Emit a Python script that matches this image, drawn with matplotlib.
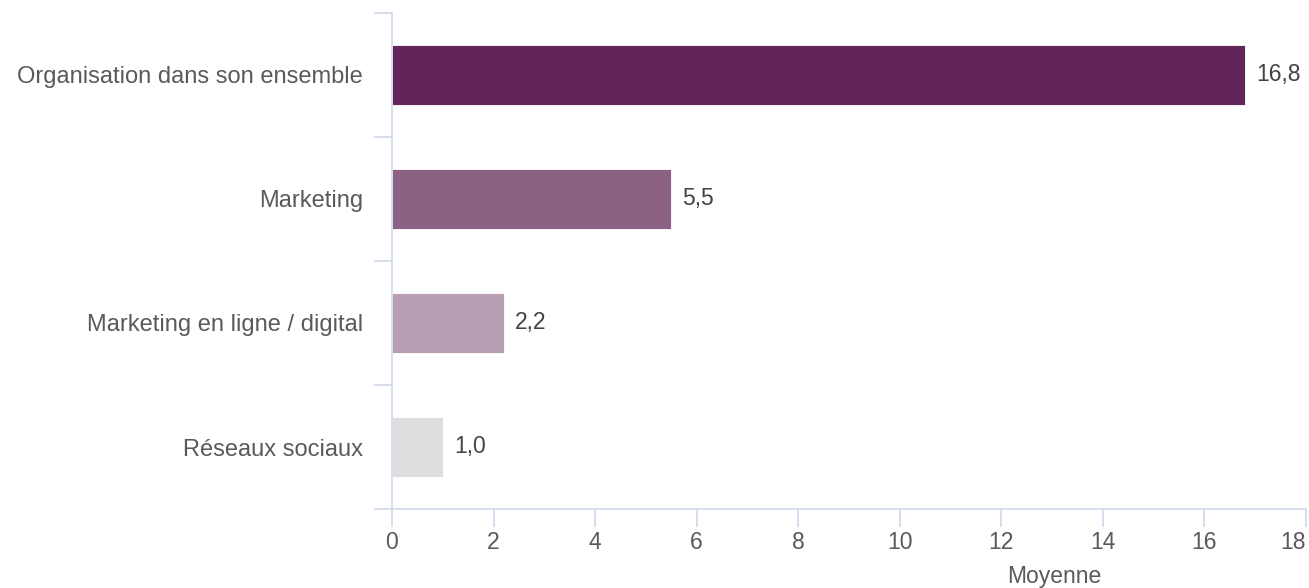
import numpy as np
import matplotlib.pyplot as plt

categories = ['Organisation dans son ensemble', 'Marketing',
              'Marketing en ligne / digital', 'Réseaux sociaux']
values = [16.8, 5.5, 2.2, 1.0]
colors = ['#62255a', '#8c6183', '#b89fb3', '#dedede']
xticks = [0, 2, 4, 6, 8, 10, 12, 14, 16, 18]

plt.rcParams['font.family'] = ['Liberation Sans', 'DejaVu Sans']
axis_col = '#ccd6eb'
text_col = '#5a5a5a'

fig = plt.figure(figsize=(13.09, 5.88), dpi=100)
ax = fig.add_axes([392 / 1309, 1 - 509 / 588, 914 / 1309, 496 / 588])

y = np.arange(len(categories))
ax.barh(y, values, height=0.48, color=colors, edgecolor='white', linewidth=0.6)

# data labels, French decimal comma
for yi, v in zip(y, values):
    ax.annotate(f'{v:.1f}'.replace('.', ','), (v, yi), xytext=(8, 0),
                textcoords='offset points', va='center', ha='left',
                fontsize=16.5, color='#444444')

ax.set_xlim(0, 18)
ax.set_ylim(len(categories) - 0.5, -0.5)
ax.set_xticks(xticks)
ax.set_xticklabels([str(t) for t in xticks])
ax.get_xticklabels()[-1].set_ha('right')
ax.set_yticks(y)
ax.set_yticklabels(categories)
ax.set_yticks(np.arange(-0.5, len(categories)), minor=True)

for s in ['top', 'right']:
    ax.spines[s].set_visible(False)
for s in ['left', 'bottom']:
    ax.spines[s].set_color(axis_col)
    ax.spines[s].set_linewidth(1.1)

ax.tick_params(axis='x', length=13, width=1.1, color=axis_col, pad=3,
               labelsize=16.5, labelcolor=text_col)
ax.tick_params(axis='y', which='major', length=0, pad=21,
               labelsize=17, labelcolor=text_col)
ax.tick_params(axis='y', which='minor', length=13, width=1.1, color=axis_col)

ax.set_xlabel('Moyenne', fontsize=16.5, color=text_col, va='top')
ax.xaxis.set_label_coords(0.725, -0.112)

fig.savefig('out.png', dpi=100)
